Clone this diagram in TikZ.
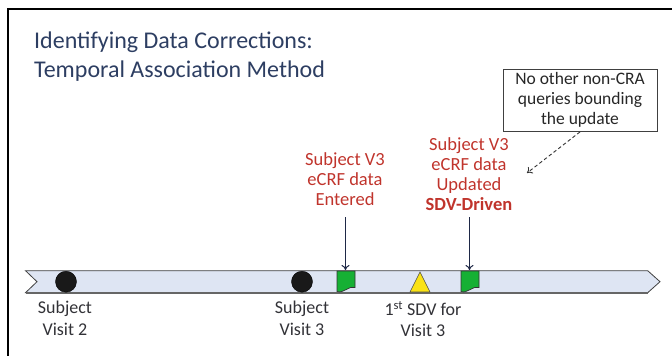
\documentclass[tikz,border=0pt]{standalone}
\usepackage{fontspec}
\setmainfont{Carlito}
\usetikzlibrary{arrows.meta}
\definecolor{titleblue}{RGB}{45,62,98}
\definecolor{redtxt}{RGB}{192,52,44}
\definecolor{bandfill}{RGB}{222,229,243}
\definecolor{bandedge}{RGB}{64,64,64}
\definecolor{arrowblue}{RGB}{30,40,70}
\definecolor{flaggreen}{RGB}{22,176,52}
\definecolor{triyellow}{RGB}{250,226,20}
\definecolor{labelgray}{RGB}{50,50,55}
\tikzset{
  lbl/.style={align=center, text=labelgray, font=\fontsize{18}{21.5}\selectfont, inner sep=0pt},
  redlbl/.style={align=center, text=redtxt, font=\fontsize{18.5}{20}\selectfont, inner sep=0pt},
  notebox/.style={draw=bandedge, line width=0.8pt, align=center, text=black!85, font=\fontsize{17.5}{20}\selectfont, inner sep=0pt, minimum width=154pt, minimum height=62pt},
  downarrow/.style={draw=arrowblue, line width=1pt, -{To[length=5pt,width=8pt]}},
  dasharrow/.style={draw=black!80, line width=0.9pt, dashed, dash pattern=on 3.5pt off 2.5pt, -{To[length=5pt,width=8pt]}},
  dot/.style={circle, fill=black!90, draw=black, minimum size=21pt, inner sep=0pt},
  flag/.style={draw=black!80, line width=0.7pt, fill=flaggreen},
}
\begin{document}
\begin{tikzpicture}[x=1pt,y=-1pt]
\useasboundingbox (0,0) rectangle (672,356);
% frame
\draw[line width=2pt, black] (8,358) -- (8,9) -- (674,9);
% title
\node[anchor=west, text=titleblue, font=\fontsize{24}{29}\selectfont, align=left, inner sep=0pt] (title) at (34,57) {Identifying Data Corrections:\\Temporal Association Method};
% band
\draw[fill=bandfill, draw=bandedge, line width=0.8pt] (25.5,270.7) -- (647.7,270.7) -- (660,281.7) -- (647.7,292.7) -- (25.5,292.7) -- (37,281.7) -- cycle;
\draw[draw=black!60, line width=1.6pt] (25.5,292.9) -- (647.7,292.9);
% dots
\node[dot] (v2) at (66,281.7) {};
\node[dot] (v3) at (302,281.7) {};
% flags
\draw[flag] (337,271) -- (355,271) -- (355,287.5) .. controls (350,285) and (343,294) .. (337,291.5) -- cycle;
\coordinate (f1) at (345.5,270);
\draw[flag] (461,271) -- (479,271) -- (479,287.5) .. controls (474,285) and (467,294) .. (461,291.5) -- cycle;
\coordinate (f2) at (469.5,270);
% triangle
\draw[fill=triyellow, draw=black!70, line width=0.6pt] (410,292) -- (420,272) -- (430,292) -- cycle;
\coordinate (tri) at (420,292);
% bottom labels
\node[lbl, anchor=north] (l2) at (65,301) {Subject\\Visit 2};
\node[lbl, anchor=north] (l3) at (302,301) {Subject\\Visit 3};
\node[lbl, anchor=north] (l4) at (423,301) {1\textsuperscript{st} SDV for\\Visit 3};
% red labels
\node[redlbl, anchor=south] (r1) at (345,206) {Subject V3\\eCRF data\\Entered};
\node[redlbl, anchor=south] (r2) at (469,211) {Subject V3\\eCRF data\\Updated\\\textbf{SDV-Driven}};
\coordinate (r1a) at (345.5,217);
\coordinate (r2a) at (469.5,217);
\draw[downarrow] (r1a) -- (f1);
\draw[downarrow] (r2a) -- (f2);
% note box
\node[notebox] (note) at (580,100) {No other non-CRA\\queries bounding\\the update};
\coordinate (nt) at (527,173);
\draw[dasharrow] (note.south) ++(0,0.5) coordinate (ns) (ns) -- (nt);
\end{tikzpicture}
\end{document}
